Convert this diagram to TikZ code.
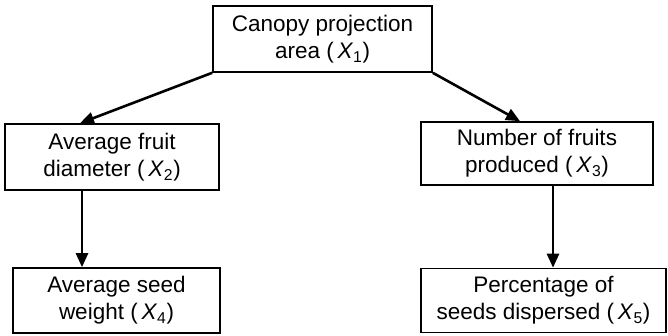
\documentclass[tikz,border=0pt]{standalone}
\usepackage{fontspec}
\setmainfont{Liberation Sans}
\usetikzlibrary{arrows.meta}
\newcommand{\var}[1]{(\,\textit{X}\textsubscript{#1})}
\begin{document}
\begin{tikzpicture}[x=1pt,y=1pt,
  varbox/.style={draw, line width=1.6pt, align=center, inner sep=0pt,
    font=\fontsize{22.5}{27}\selectfont},
  link/.style={line width=2.6pt, -{Triangle[length=14pt,width=12pt]}}]
\useasboundingbox (0,0) rectangle (668,335);
% variable boxes (y measured upward from the bottom edge)
\node[varbox, minimum width=219pt, minimum height=66pt] (x1) at (322.5,296)
  {Canopy projection\\area \var{1}};
\node[varbox, minimum width=214pt, minimum height=66pt] (x2) at (112,178)
  {Average fruit\\diameter \var{2}};
\node[varbox, minimum width=232pt, minimum height=63pt] (x3) at (537,181.5)
  {Number of fruits\\produced \var{3}};
\node[varbox, minimum width=207pt, minimum height=65pt] (x4) at (116.5,34.5)
  {Average seed\\weight \var{4}};
\node[varbox, minimum width=245pt, minimum height=64pt] (x5) at (543.5,34.5)
  {Percentage of\\seeds dispersed \var{5}};
% causal links
\draw[link] (x1.south west) -- (x2.north -| 80,0);
\draw[link] (x1.south east) -- (x3.north -| 520,0);
\draw[link] (x2.south -| 82,0) -- (x4.north -| 82,0);
\draw[link] (x3.south -| 553,0) -- (x5.north -| 553,0);
\end{tikzpicture}
\end{document}
